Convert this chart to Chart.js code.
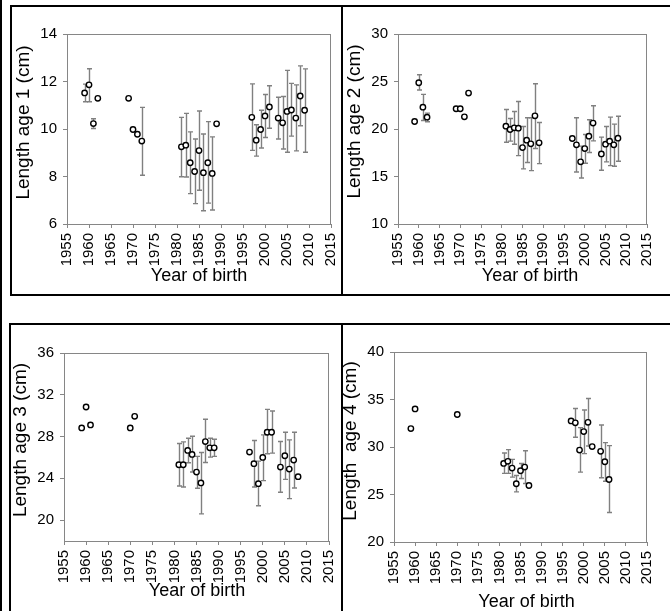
<!DOCTYPE html>
<html>
<head>
<meta charset="utf-8">
<script src="https://cdn.jsdelivr.net/npm/chart.js@4.4.0/dist/chart.umd.min.js"></script>
<style>
    html, body { margin: 0; padding: 0; background: #fff; }
    body { width: 670px; height: 611px; position: relative; overflow: hidden; }
    .frame { position: absolute; border: 2px solid #000; box-sizing: border-box; }
    .strip { position: absolute; left: 0; top: 0; width: 2px; height: 611px; background: #000; }
    canvas { position: absolute; left: 0; top: 0; }
</style>
</head>
<body>
<div class="strip"></div>
<div class="frame" style="left:10px;top:5px;width:333px;height:291px"></div>
<div class="frame" style="left:341px;top:5px;width:340px;height:291px"></div>
<div class="frame" style="left:9px;top:323px;width:334px;height:300px"></div>
<div class="frame" style="left:341px;top:323px;width:340px;height:300px"></div>
<canvas id="c1" width="670" height="640"></canvas>
<canvas id="c2" width="670" height="640"></canvas>
<canvas id="c3" width="670" height="640"></canvas>
<canvas id="c4" width="670" height="640"></canvas>
<script>
// year ticks shared by all four panels
const yearTicks = [1955, 1960, 1965, 1970, 1975, 1980, 1985, 1990, 1995, 2000, 2005, 2010, 2015];

// age 1
const age1Ticks = [6, 8, 10, 12, 14];
const age1Years = [1959, 1960, 1961, 1962, 1969, 1970, 1971, 1972, 1981, 1982, 1983, 1984, 1985, 1986, 1987, 1988, 1989, 1997, 1998, 1999, 2000, 2001, 2003, 2004, 2005, 2006, 2007, 2008, 2009];
const age1Mean = [11.52, 11.86, 10.23, 11.29, 11.29, 9.98, 9.78, 9.49, 9.25, 9.32, 8.58, 8.21, 9.09, 8.16, 8.58, 8.13, 10.22, 10.49, 9.53, 9.98, 10.55, 10.93, 10.46, 10.26, 10.74, 10.80, 10.46, 11.39, 10.79];
const age1Lo = [11.15, 11.15, 10.02, null, null, null, null, 8.05, 7.99, 7.98, 7.28, 6.86, 7.42, 6.56, 6.88, 6.59, null, 9.10, 8.86, 9.20, 9.64, 10.03, 9.58, 9.16, 9.02, 9.70, 9.08, 10.14, 9.02];
const age1Hi = [11.89, 12.54, 10.43, null, null, null, null, 10.91, 10.49, 10.66, 9.88, 9.58, 10.76, 9.79, 10.31, 9.67, null, 11.90, 10.18, 10.79, 11.45, 11.82, 11.34, 11.37, 12.47, 11.92, 11.86, 12.66, 12.53];

// age 2
const age2Ticks = [10, 15, 20, 25, 30];
const age2Years = [1959, 1960, 1961, 1962, 1969, 1970, 1971, 1972, 1981, 1982, 1983, 1984, 1985, 1986, 1987, 1988, 1989, 1997, 1998, 1999, 2000, 2001, 2002, 2004, 2005, 2006, 2007, 2008];
const age2Mean = [20.79, 24.87, 22.30, 21.25, 22.13, 22.13, 21.28, 23.78, 20.30, 19.95, 20.12, 20.09, 18.05, 18.82, 18.44, 21.39, 18.54, 19.00, 18.33, 16.54, 17.94, 19.25, 20.62, 17.38, 18.40, 18.72, 18.33, 19.03];
const age2Lo = [null, 24.10, 20.90, 20.76, null, null, null, null, 18.61, 18.72, 18.40, 17.20, 15.80, 16.47, 15.62, 17.94, 16.36, null, 15.48, 14.85, 16.40, 17.52, 18.75, 15.66, 16.54, 16.15, 16.08, 16.60];
const age2Hi = [null, 25.71, 23.64, 21.67, null, null, null, null, 22.06, 21.11, 21.85, 22.90, 20.26, 21.18, 21.18, 24.76, 20.69, null, 21.18, 18.20, 19.42, 20.97, 22.44, 19.14, 20.26, 21.25, 20.51, 21.35];

// age 3
const age3Ticks = [20, 24, 28, 32, 36];
const age3Years = [1959, 1960, 1961, 1970, 1971, 1981, 1982, 1983, 1984, 1985, 1986, 1987, 1988, 1989, 1997, 1998, 1999, 2000, 2001, 2002, 2004, 2005, 2006, 2007, 2008];
const age3Mean = [28.83, 30.83, 29.11, 28.83, 29.94, 25.30, 25.30, 26.67, 26.29, 24.60, 23.56, 27.52, 26.92, 26.92, 26.51, 25.40, 23.49, 26.00, 28.41, 28.41, 25.08, 26.16, 24.89, 25.75, 24.16];
const age3Lo = [null, null, null, null, null, 23.27, 23.17, 25.49, 24.60, 23.05, 20.60, 25.52, 26.03, 26.10, null, 23.17, 21.37, 23.78, 26.35, 26.41, 22.67, 23.90, 22.06, 23.08, null];
const age3Hi = [null, null, null, null, null, 27.33, 27.49, 27.84, 28.03, 26.10, 26.48, 29.65, 27.84, 27.74, null, 27.62, 25.65, 28.16, 30.60, 30.44, 27.52, 28.41, 27.68, 28.41, null];

// age 4
const age4Ticks = [20, 25, 30, 35, 40];
const age4Years = [1959, 1960, 1970, 1981, 1982, 1983, 1984, 1985, 1986, 1987, 1997, 1998, 1999, 2000, 2001, 2002, 2004, 2005, 2006];
const age4Mean = [31.94, 34.01, 33.42, 28.27, 28.49, 27.78, 26.13, 27.50, 27.89, 25.95, 32.75, 32.54, 29.68, 31.62, 32.60, 30.04, 29.54, 28.45, 26.58];
const age4Lo = [null, null, null, 27.22, 27.22, 26.83, 25.28, 26.69, 26.16, null, null, 31.02, 27.36, 29.30, 30.10, null, 26.76, 26.40, 23.10];
const age4Hi = [null, null, null, 29.37, 29.72, 28.70, 27.00, 28.27, 29.61, null, null, 34.05, 32.04, 33.90, 35.10, null, 32.32, 30.46, 30.14];

const FONT = 'Arial, "Liberation Sans", sans-serif';
const W = 670, H = 640;
const GRAY = '#868686';

// plot frame + error bars drawn under the points
function panelPlugin(years, lo, hi) {
    return {
        id: 'panelBits',
        beforeDatasetsDraw(chart) {
            const { ctx, chartArea: a, scales: { x, y } } = chart;
            ctx.save();
            ctx.strokeStyle = GRAY;
            ctx.lineWidth = 1;
            ctx.strokeRect(a.left + 0.5, a.top + 0.5, a.right - a.left - 1, a.bottom - a.top);
            ctx.lineWidth = 1.4;
            ctx.strokeStyle = '#808080';
            years.forEach((yr, i) => {
                if (lo[i] == null) return;
                const px = Math.round(x.getPixelForValue(yr)) + 0.5;
                const top = y.getPixelForValue(hi[i]);
                const bot = y.getPixelForValue(lo[i]);
                ctx.beginPath();
                ctx.moveTo(px, top); ctx.lineTo(px, bot);
                ctx.moveTo(px - 2.5, top); ctx.lineTo(px + 2.5, top);
                ctx.moveTo(px - 2.5, bot); ctx.lineTo(px + 2.5, bot);
                ctx.stroke();
            });
            ctx.restore();
        }
    };
}

function titlePlugin(p) {
    return {
        id: 'panelTitles',
        afterDraw(chart) {
            const ctx = chart.ctx;
            ctx.save();
            ctx.fillStyle = '#000';
            ctx.textAlign = 'center';
            ctx.textBaseline = 'middle';
            ctx.font = '18px ' + FONT;
            ctx.fillText('Year of birth', p.xTitle[0], p.xTitle[1]);
            ctx.translate(p.yTitle[0], p.yTitle[1]);
            ctx.rotate(-Math.PI / 2);
            ctx.font = '19px ' + FONT;
            ctx.fillText(p.yLabel, 0, 0);
            ctx.restore();
        }
    };
}

function createPanel(p) {
    const area = p.area;
    new Chart(document.getElementById(p.id), {
        type: 'scatter',
        data: {
            datasets: [{
                data: p.years.map((yr, i) => ({ x: yr, y: p.mean[i] })),
                pointStyle: 'circle',
                pointRadius: 2.7,
                borderWidth: 1.4,
                borderColor: '#000',
                backgroundColor: '#fff'
            }]
        },
        options: {
            responsive: false,
            animation: false,
            events: [],
            layout: { padding: { left: 0, top: area.t, right: W - area.r, bottom: 0 } },
            plugins: { legend: { display: false }, tooltip: { enabled: false } },
            scales: {
                x: {
                    type: 'linear',
                    min: yearTicks[0],
                    max: yearTicks[yearTicks.length - 1],
                    afterBuildTicks: axis => { axis.ticks = yearTicks.map(v => ({ value: v })); },
                    afterFit: s => { s.height = H - area.b; },
                    border: { display: false },
                    grid: { drawOnChartArea: false, drawTicks: true, tickLength: 4, tickColor: GRAY },
                    ticks: {
                        minRotation: 90, maxRotation: 90, autoSkip: false, padding: 5,
                        color: '#000', font: { family: FONT, size: 15 },
                        callback: v => String(v)
                    }
                },
                y: {
                    min: p.yMin,
                    max: p.yMax,
                    afterBuildTicks: axis => { axis.ticks = p.yTicks.map(v => ({ value: v })); },
                    afterFit: s => { s.width = area.l; },
                    border: { display: false },
                    grid: { drawOnChartArea: false, drawTicks: true, tickLength: 4, tickColor: GRAY },
                    ticks: { padding: 6, color: '#000', font: { family: FONT, size: 15 } }
                }
            }
        },
        plugins: [panelPlugin(p.years, p.lo, p.hi), titlePlugin(p)]
    });
}

document.addEventListener('DOMContentLoaded', () => {
    createPanel({ id: 'c1', years: age1Years, mean: age1Mean, lo: age1Lo, hi: age1Hi, yMin: 6, yMax: 14, yTicks: age1Ticks,
        yLabel: 'Length age 1 (cm)', area: { l: 67, t: 34, r: 331, b: 224 }, yTitle: [24, 122.5], xTitle: [199, 276] });
    createPanel({ id: 'c2', years: age2Years, mean: age2Mean, lo: age2Lo, hi: age2Hi, yMin: 10, yMax: 30, yTicks: age2Ticks,
        yLabel: 'Length age 2 (cm)', area: { l: 398, t: 34, r: 661, b: 224 }, yTitle: [354.5, 121.5], xTitle: [530, 276] });
    createPanel({ id: 'c3', years: age3Years, mean: age3Mean, lo: age3Lo, hi: age3Hi, yMin: 18, yMax: 36, yTicks: age3Ticks,
        yLabel: 'Length age 3 (cm)', area: { l: 64, t: 353, r: 329, b: 541 }, yTitle: [20.7, 440], xTitle: [197, 591.5] });
    createPanel({ id: 'c4', years: age4Years, mean: age4Mean, lo: age4Lo, hi: age4Hi, yMin: 20, yMax: 40, yTicks: age4Ticks,
        yLabel: 'Length  age 4 (cm)', area: { l: 394, t: 352, r: 659, b: 542 }, yTitle: [350.7, 441], xTitle: [526.5, 602] });
});
</script>
</body>
</html>
